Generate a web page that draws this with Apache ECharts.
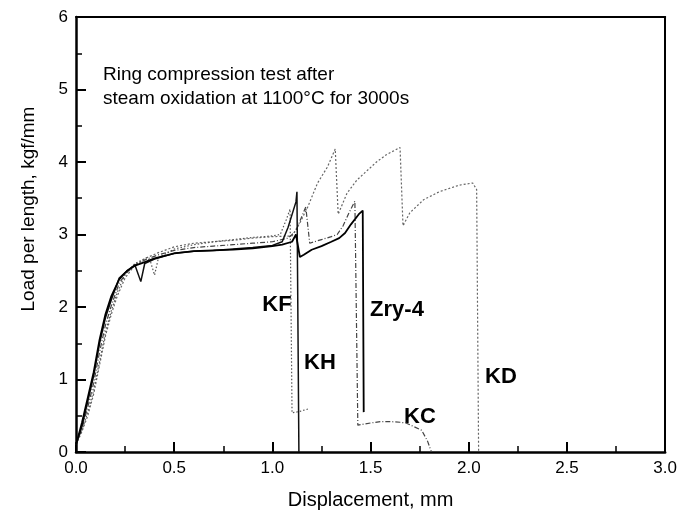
<!DOCTYPE html>
<html>
<head>
<meta charset="utf-8">
<script src="https://cdn.jsdelivr.net/npm/echarts@6/dist/echarts.min.js"></script>
<style>
  html, body { margin: 0; padding: 0; background: #fff; }
  #chart { width: 680px; height: 518px; }
</style>
</head>
<body>
<div id="chart"></div>
<script>
// ticks
const xTicks = [0, 0.5, 1.0, 1.5, 2.0, 2.5, 3.0];
const yTicks = [0, 1, 2, 3, 4, 5, 6];

const kfData = [
  [0, 0.12], [0.03, 0.3], [0.06, 0.55], [0.09, 0.85], [0.12, 1.25], [0.15, 1.65],
  [0.18, 1.95], [0.21, 2.2], [0.25, 2.45], [0.3, 2.6], [0.36, 2.68], [0.38, 2.62],
  [0.40, 2.44], [0.42, 2.68], [0.5, 2.8], [0.6, 2.86], [0.7, 2.9], [0.8, 2.93],
  [0.9, 2.96], [1.0, 2.98], [1.04, 3.0], [1.07, 3.2], [1.09, 3.35], [1.10, 0.54],
  [1.14, 0.56], [1.19, 0.6]
];
const khData = [
  [0, 0.1], [0.03, 0.35], [0.06, 0.7], [0.09, 1.05], [0.12, 1.5], [0.15, 1.85],
  [0.18, 2.1], [0.22, 2.4], [0.26, 2.5], [0.3, 2.58], [0.33, 2.35], [0.35, 2.6],
  [0.4, 2.66], [0.5, 2.74], [0.6, 2.77], [0.7, 2.78], [0.8, 2.8], [0.9, 2.82],
  [1.0, 2.85], [1.05, 2.9], [1.08, 3.1], [1.12, 3.45], [1.125, 3.59], [1.135, 0]
];
const zryData = [
  [0, 0.1], [0.03, 0.4], [0.06, 0.75], [0.09, 1.1], [0.12, 1.55], [0.15, 1.9],
  [0.18, 2.15], [0.22, 2.38], [0.26, 2.5], [0.3, 2.57], [0.35, 2.62], [0.4, 2.67],
  [0.5, 2.74], [0.6, 2.77], [0.7, 2.78], [0.8, 2.79], [0.9, 2.81], [1.0, 2.84],
  [1.05, 2.86], [1.1, 2.9], [1.12, 3.0], [1.14, 2.69], [1.16, 2.72], [1.2, 2.79],
  [1.25, 2.84], [1.3, 2.9], [1.34, 2.95], [1.37, 3.02], [1.4, 3.14], [1.44, 3.28],
  [1.46, 3.33], [1.465, 0.55]
];
const kcData = [
  [0, 0.1], [0.03, 0.32], [0.06, 0.62], [0.09, 0.95], [0.12, 1.38], [0.15, 1.75],
  [0.18, 2.02], [0.22, 2.33], [0.26, 2.48], [0.3, 2.58], [0.36, 2.66], [0.42, 2.72],
  [0.5, 2.78], [0.6, 2.82], [0.7, 2.84], [0.8, 2.86], [0.9, 2.88], [1.0, 2.9],
  [1.08, 2.95], [1.12, 3.05], [1.15, 3.25], [1.17, 3.38], [1.19, 2.88], [1.25, 2.93],
  [1.3, 2.97], [1.33, 3.0], [1.36, 3.12], [1.39, 3.3], [1.42, 3.46], [1.43, 3.48],
  [1.435, 0.37], [1.5, 0.4], [1.55, 0.42], [1.6, 0.42], [1.65, 0.41], [1.68, 0.4],
  [1.72, 0.35], [1.76, 0.3], [1.79, 0.15], [1.81, 0]
];
const kdData = [
  [0, 0.1], [0.03, 0.28], [0.06, 0.5], [0.09, 0.8], [0.12, 1.2], [0.15, 1.6],
  [0.18, 1.9], [0.21, 2.15], [0.25, 2.4], [0.3, 2.58], [0.36, 2.68], [0.42, 2.75],
  [0.5, 2.83], [0.6, 2.88], [0.7, 2.9], [0.8, 2.92], [0.9, 2.95], [1.0, 2.97],
  [1.1, 2.98], [1.14, 3.16], [1.18, 3.38], [1.23, 3.71], [1.28, 3.93], [1.32, 4.18],
  [1.335, 3.28], [1.38, 3.57], [1.43, 3.75], [1.47, 3.85], [1.53, 4.0], [1.58, 4.1],
  [1.65, 4.2], [1.665, 3.12], [1.7, 3.3], [1.77, 3.48], [1.85, 3.59], [1.95, 3.68],
  [2.02, 3.71], [2.04, 3.62], [2.05, 0]
];

const font = '"Liberation Sans", Arial, sans-serif';

// main axis : line, major ticks (inside) and labels
let tickAxis = function (pos, min, max, step, labelFmt) {
  return {
    type: 'value',
    position: pos,
    min: min,
    max: max,
    interval: step,
    axisLine: {show: true, onZero: false, lineStyle: {color: '#000', width: 2.5}},
    axisTick: {show: true, inside: true, length: 10, lineStyle: {color: '#000', width: 2}},
    splitLine: {show: false},
    axisLabel: {
      color: '#000', fontFamily: font, fontSize: 17, margin: 8,
      formatter: labelFmt
    }
  };
};
// same position, only the short half-step ticks
let minorAxis = function (pos, min, max, step) {
  return {
    type: 'value', position: pos, min: min, max: max, interval: step,
    axisLine: {show: false, onZero: false},
    axisTick: {show: true, inside: true, length: 6, lineStyle: {color: '#000', width: 1.5}},
    axisLabel: {show: false}, splitLine: {show: false}
  };
};
// top / right box lines
let frameAxis = function (pos) {
  return {
    type: 'value', position: pos, min: 0, max: 1,
    axisLine: {show: true, onZero: false, lineStyle: {color: '#000', width: 2}},
    axisTick: {show: false}, axisLabel: {show: false}, splitLine: {show: false}
  };
};

let xMain = tickAxis('bottom', xTicks[0], xTicks[xTicks.length - 1], 0.5, v => v.toFixed(1));
xMain.name = 'Displacement, mm';
xMain.nameLocation = 'middle';
xMain.nameGap = 38;
xMain.nameTextStyle = {color: '#000', fontFamily: font, fontSize: 20};

let yMain = tickAxis('left', yTicks[0], yTicks[yTicks.length - 1], 1, v => String(v));

let lineSeries = function (name, data, color, width, type) {
  return {
    name: name, type: 'line', data: data, showSymbol: false, silent: true,
    xAxisIndex: 0, yAxisIndex: 0,
    lineStyle: {color: color, width: width, type: type}
  };
};

let label = function (txt, x, y) {
  return {
    type: 'text', x: x, y: y,
    style: {text: txt, fill: '#000', font: 'bold 22px ' + font, align: 'center', verticalAlign: 'middle'}
  };
};

const chart = echarts.init(document.getElementById('chart'), null, {renderer: 'canvas'});
let option = {
  backgroundColor: '#fff',
  animation: false,
  grid: {left: 76, right: 9, top: 17, bottom: 66},
  xAxis: [xMain, frameAxis('top'), minorAxis('bottom', 0, 3, 0.25)],
  yAxis: [yMain, frameAxis('right'), minorAxis('left', 0, 6, 0.5)],
  series: [
    lineSeries('KD', kdData, '#666', 1.2, [2, 2]),
    lineSeries('KF', kfData, '#555', 1.2, [1.5, 2]),
    lineSeries('KC', kcData, '#444', 1.2, [5, 2, 1, 2]),
    lineSeries('KH', khData, '#111', 1.5, 'solid'),
    lineSeries('Zry-4', zryData, '#000', 1.8, 'solid')
  ],
  graphic: [
    {
      type: 'text', x: 29, y: 209, rotation: Math.PI / 2,
      style: {text: 'Load per length, kgf/mm', fill: '#000', font: '19px ' + font, align: 'center', verticalAlign: 'middle'}
    },
    {
      type: 'text', x: 103, y: 75,
      style: {text: 'Ring compression test after', fill: '#000', font: '19px ' + font, align: 'left', verticalAlign: 'middle'}
    },
    {
      type: 'text', x: 103, y: 99,
      style: {text: 'steam oxidation at 1100\u00B0C for 3000s', fill: '#000', font: '19px ' + font, align: 'left', verticalAlign: 'middle'}
    },
    label('KF', 277, 305),
    label('KH', 320, 363),
    label('Zry-4', 397, 310),
    label('KC', 420, 417),
    label('KD', 501, 377)
  ]
};
option && chart.setOption(option);
</script>
</body>
</html>
